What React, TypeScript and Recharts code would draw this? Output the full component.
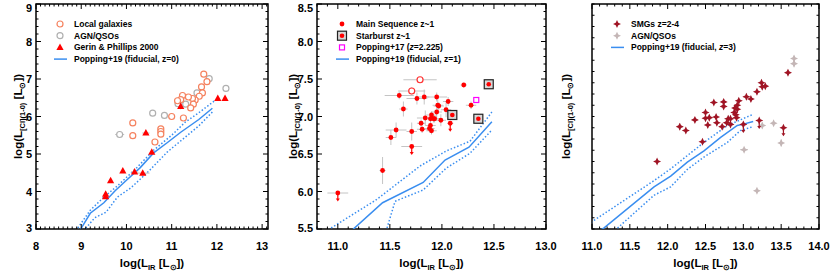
import React from 'react';
import {
  ComposedChart,
  Scatter,
  Line,
  XAxis,
  YAxis,
  ErrorBar,
  ReferenceArea,
  Legend,
} from 'recharts';

const FONT = '"Liberation Sans", Arial, Helvetica, sans-serif';
const BLUE = '#3a8ef0';
const ERR = '#c4c4c4';
const H = 274;
const TOP = 4;
const PLOT_H = 225;

// ---- panel 1 (z=0) : [x, y, xErr, yErr]
const localGalaxies = [
  [11.71, 7.13, 0.04, 0.07], [11.78, 6.93, 0.04, 0.05], [11.66, 6.79, 0.03, 0.05],
  [11.68, 6.63, 0.04, 0.05], [11.61, 6.54, 0.04, 0.05], [11.52, 6.44, 0.04, 0.05],
  [11.46, 6.48, 0.05, 0.05], [11.37, 6.52, 0.05, 0.05], [11.24, 6.56, 0.05, 0.05],
  [11.2, 6.45, 0.05, 0.05], [11.13, 6.42, 0.05, 0.06], [11.48, 6.33, 0.04, 0.05],
  [11.42, 6.23, 0.04, 0.05], [11.26, 5.96, 0.04, 0.08], [11.0, 6.0, 0.04, 0.04],
  [10.76, 5.67, 0.04, 0.04], [10.76, 5.6, 0.04, 0.04], [10.76, 5.53, 0.04, 0.04],
  [10.63, 5.32, 0.04, 0.04], [10.14, 5.83, 0.04, 0.05], [10.14, 5.49, 0.04, 0.05],
];
const agnLocal = [
  [11.83, 7.01, 0.06, 0.04], [11.56, 6.63, 0.05, 0.05], [11.31, 6.33, 0.05, 0.05],
  [11.14, 6.34, 0.06, 0.05], [10.84, 6.03, 0.06, 0.03], [10.58, 6.09, 0.06, 0.03],
  [9.85, 5.52, 0.1, 0.05], [12.2, 6.75, 0.06, 0.03],
];
const gerin = [
  [9.54, 3.93, 0, 0], [9.54, 3.86, 0, 0], [9.65, 4.29, 0, 0], [9.92, 4.55, 0.03, 0],
  [10.18, 4.52, 0.08, 0], [10.36, 4.49, 0.15, 0], [10.43, 5.56, 0.08, 0],
  [10.56, 5.05, 0.03, 0], [11.2, 6.27, 0, 0.08], [12.02, 6.48, 0, 0], [12.18, 6.48, 0, 0],
];
const model0 = [
  [8.95, 2.92], [9.2, 3.42], [9.5, 3.7], [9.75, 4.02], [10.0, 4.3], [10.3, 4.63],
  [10.6, 5.03], [10.9, 5.3], [11.2, 5.58], [11.6, 5.92], [11.9, 6.22],
];
const model0Hi = [
  [8.88, 2.95], [9.2, 3.5], [9.5, 3.85], [9.8, 4.15], [10.2, 4.6], [10.6, 5.1],
  [11.0, 5.5], [11.3, 5.85], [11.6, 6.1], [11.95, 6.42],
];
const model0Lo = [
  [9.05, 2.95], [9.3, 3.3], [9.55, 3.45], [9.8, 3.85], [10.1, 4.1], [10.5, 4.55],
  [10.9, 5.05], [11.3, 5.45], [11.6, 5.75], [11.9, 6.12],
];

// ---- panel 2 (z~1)
const mainSeq = [
  [11.43, 6.28, 0.03, 0.18], [11.51, 6.72, 0.05, 0.1], [11.56, 6.82, 0.1, 0.1],
  [11.59, 7.28, 0.14, 0.05], [11.63, 7.1, 0.04, 0.1], [11.71, 6.8, 0.05, 0.12],
  [11.76, 7.24, 0.1, 0.08], [11.83, 7.26, 0.05, 0.1], [11.84, 6.98, 0.08, 0.1],
  [11.8, 6.91, 0.04, 0.05], [11.81, 6.83, 0.05, 0.05], [11.88, 6.84, 0.05, 0.05],
  [11.9, 6.81, 0.05, 0.05], [11.89, 6.88, 0.05, 0.1], [11.89, 6.97, 0.05, 0.08],
  [11.92, 6.97, 0.05, 0.05], [11.93, 6.97, 0.05, 0.05], [11.9, 7.02, 0.05, 0.05],
  [11.95, 7.06, 0.05, 0.1], [11.96, 7.15, 0.05, 0.08], [11.97, 7.14, 0.05, 0.05],
  [11.95, 7.26, 0.1, 0.06], [11.99, 6.95, 0.05, 0.08], [12.04, 7.09, 0.05, 0.1],
  [12.06, 7.2, 0.05, 0.06], [12.21, 7.42, 0.03, 0.03], [12.28, 7.15, 0.05, 0.05],
];
const mainSeqLimits = [
  [11.0, 5.98, 0.1, 0], [11.71, 6.6, 0.1, 0.08], [12.08, 6.91, 0.03, 0],
];
const mainSeqOpen = [
  [11.79, 7.49, 0.16, 0.03], [11.71, 7.34, 0.13, 0.05],
];
const starburst = [
  [12.1, 7.02, 0, 0], [12.35, 6.97, 0, 0], [12.45, 7.43, 0, 0.03],
];
const popping17 = [[12.33, 7.22, 0, 0]];
const model1 = [
  [11.1, 5.36], [11.15, 5.5], [11.43, 5.85], [11.82, 6.12], [12.03, 6.42], [12.26, 6.59], [12.48, 6.93],
];
const model1Hi = [
  [10.88, 5.4], [10.92, 5.5], [11.37, 5.89], [11.79, 6.34], [12.04, 6.54], [12.27, 6.67], [12.48, 7.06],
];
const model1Lo = [
  [11.44, 5.38], [11.47, 5.5], [11.55, 5.87], [11.82, 6.02], [12.04, 6.31], [12.27, 6.51], [12.48, 6.82],
];

// ---- panel 3 (z=2-4)
const smgs = [
  [11.86, 6.7, 0.03, 0.04], [12.16, 7.32, 0.04, 0.06], [12.24, 7.25, 0.03, 0.05],
  [12.36, 7.44, 0.04, 0.04], [12.46, 7.05, 0.03, 0.05], [12.5, 7.57, 0.03, 0.05],
  [12.5, 7.47, 0.04, 0.06], [12.55, 7.48, 0.03, 0.05], [12.53, 7.35, 0.03, 0.05],
  [12.64, 7.49, 0.03, 0.05], [12.65, 7.39, 0.03, 0.05], [12.61, 7.75, 0.05, 0.04],
  [12.72, 7.32, 0.03, 0.04], [12.74, 7.76, 0.03, 0.05], [12.74, 7.68, 0.03, 0.05],
  [12.78, 7.39, 0.03, 0.05], [12.8, 7.46, 0.05, 0.06], [12.83, 7.46, 0.03, 0.06],
  [12.83, 7.36, 0.03, 0.05], [12.88, 7.57, 0.03, 0.06], [12.89, 7.65, 0.03, 0.05],
  [12.9, 7.53, 0.03, 0.06], [12.92, 7.63, 0.03, 0.05], [12.92, 7.7, 0.03, 0.05],
  [12.94, 7.78, 0.03, 0.05], [12.91, 7.48, 0.03, 0.05], [13.04, 7.85, 0.04, 0.06],
  [13.1, 7.81, 0.03, 0.04], [13.18, 7.94, 0.03, 0.05], [13.24, 8.1, 0.03, 0.06],
  [13.25, 8.03, 0.03, 0.05], [13.29, 8.04, 0.03, 0.04], [13.59, 8.28, 0.03, 0.05],
];
const smgLimits = [
  [13.0, 7.36, 0.03, 0], [13.21, 7.43, 0.03, 0], [13.53, 7.3, 0.03, 0],
];
const agnHighZ = [
  [13.01, 6.91, 0.05, 0.03], [13.18, 6.18, 0.03, 0.03], [13.25, 7.34, 0.03, 0.05],
  [13.4, 7.38, 0.03, 0.03], [13.5, 7.03, 0.03, 0.06], [13.67, 8.53, 0.02, 0.05],
  [13.67, 8.44, 0.02, 0.05],
];
const model3 = [
  [11.1, 5.47], [11.16, 5.52], [11.82, 6.25], [12.04, 6.44], [12.26, 6.69], [12.48, 6.89],
  [12.7, 7.13], [12.92, 7.34], [12.99, 7.36], [13.13, 7.41],
];
const model3Hi = [
  [10.95, 5.58], [11.0, 5.63], [11.82, 6.36], [12.04, 6.57], [12.48, 7.04], [12.79, 7.34], [13.13, 7.54],
];
const model3Lo = [
  [11.3, 5.48], [11.34, 5.52], [11.82, 6.1], [12.04, 6.25], [12.26, 6.56], [12.48, 6.78],
  [12.79, 7.04], [12.96, 7.25], [13.13, 7.32],
];

// ---- ticks
const xMajor1 = [8, 9, 10, 11, 12, 13];
const yMajor1 = [3, 4, 5, 6, 7, 8, 9];
const xMajor2 = [11, 11.5, 12, 12.5, 13];
const yMajor2 = [5.5, 6, 6.5, 7, 7.5, 8, 8.5];
const xMajor3 = [11, 11.5, 12, 12.5, 13, 13.5, 14];
const yMajor3 = [6, 7, 8, 9];

const pts = (rows: number[][]) => rows.map(([x, y, ex = 0, ey = 0]) => ({ x, y, ex, ey }));
const line = (rows: number[][]) => rows.map(([x, y]) => ({ x, y }));
const steps = (a: number, b: number, s: number) => {
  const out: number[] = [];
  for (let v = a; v <= b + 1e-9; v += s) out.push(Math.round(v * 1000) / 1000);
  return out;
};
const isMajor = (majors: number[], v: number) => majors.some((m) => Math.abs(m - v) < 1e-6);
const int = (v: number) => String(Math.round(v));
const one = (v: number) => v.toFixed(1);

// ---- marker shapes
const OpenCircle = ({ cx, cy, color }: any) => (
  <circle cx={cx} cy={cy} r={3} fill="#fff" stroke={color} strokeWidth={1.2} />
);
const Dot = ({ cx, cy, color, r = 2.4 }: any) => <circle cx={cx} cy={cy} r={r} fill={color} />;
const Triangle = ({ cx, cy }: any) => (
  <polygon points={`${cx},${cy - 4} ${cx + 3.6},${cy + 2.6} ${cx - 3.6},${cy + 2.6}`} fill="#ff0000" />
);
const Star = ({ cx, cy, color, r = 4 }: any) => {
  const i = r * 0.32;
  return (
    <path
      d={`M${cx},${cy - r}L${cx + i},${cy - i}L${cx + r},${cy}L${cx + i},${cy + i}L${cx},${cy + r}L${cx - i},${cy + i}L${cx - r},${cy}L${cx - i},${cy - i}Z`}
      fill={color}
    />
  );
};
const Box = ({ cx, cy }: any) => (
  <g>
    <rect x={cx - 4.5} y={cy - 4.5} width={9} height={9} fill="#d8d8d8" stroke="#222" strokeWidth={1.2} />
    <circle cx={cx} cy={cy} r={2.3} fill="#ff0000" />
  </g>
);
const MagentaSquare = ({ cx, cy }: any) => (
  <rect x={cx - 2.5} y={cy - 2.5} width={5} height={5} fill="#fff" stroke="#ff00ff" strokeWidth={1.2} />
);
const Limit = ({ cx, cy, color, star }: any) => (
  <g>
    <line x1={cx} y1={cy} x2={cx} y2={cy + 7} stroke={color} strokeWidth={1.2} />
    <polygon points={`${cx - 2},${cy + 5.5} ${cx + 2},${cy + 5.5} ${cx},${cy + 8.5}`} fill={color} />
    {star ? <Star cx={cx} cy={cy} color={color} /> : <Dot cx={cx} cy={cy} color={color} />}
  </g>
);

// ---- axes
const makeXTick = (majors: number[], fmt: (v: number) => string) => (p: any) => {
  const { x, y, payload } = p;
  const v = payload.value;
  const major = isMajor(majors, v);
  const len = major ? 5 : 2.5;
  const top = y - PLOT_H;
  return (
    <g>
      <line x1={x} y1={y} x2={x} y2={y - len} stroke="#000" strokeWidth={1} />
      <line x1={x} y1={top} x2={x} y2={top + len} stroke="#000" strokeWidth={1} />
      {major && (
        <text x={x} y={y + 21} textAnchor="middle" fontFamily={FONT} fontWeight="bold" fontSize={11} fill="#000">
          {fmt(v)}
        </text>
      )}
    </g>
  );
};

const makeYTick = (majors: number[], fmt: (v: number) => string, plotW: number) => (p: any) => {
  const { x, y, payload } = p;
  const v = payload.value;
  const major = isMajor(majors, v);
  const len = major ? 5 : 2.5;
  const ly = Math.min(Math.max(y, TOP + 4), TOP + PLOT_H - 1);
  return (
    <g>
      <line x1={x} y1={y} x2={x + len} y2={y} stroke="#000" strokeWidth={1} />
      <line x1={x + plotW} y1={y} x2={x + plotW - len} y2={y} stroke="#000" strokeWidth={1} />
      {major && (
        <text x={x - 4} y={ly + 4} textAnchor="end" fontFamily={FONT} fontWeight="bold" fontSize={11} fill="#000">
          {fmt(v)}
        </text>
      )}
    </g>
  );
};

const XTitle = ({ cx }: any) => (
  <text x={cx} y={TOP + PLOT_H + 38} textAnchor="middle" fontFamily={FONT} fontWeight="bold" fontSize={11.5} fill="#000">
    log(L<tspan fontSize={7.5} dy={3}>IR</tspan>
    <tspan dy={-3}> [L</tspan>
    <tspan fontSize={7.5} dy={3}>⊙</tspan>
    <tspan dy={-3}>])</tspan>
  </text>
);

const YTitle = ({ cx }: any) => {
  const cy = TOP + PLOT_H / 2;
  return (
    <text
      x={cx}
      y={cy + 4}
      transform={`rotate(-90 ${cx} ${cy})`}
      textAnchor="middle"
      fontFamily={FONT}
      fontWeight="bold"
      fontSize={11.5}
      fill="#000"
    >
      log(L<tspan fontSize={7.5} dy={3}>[CI](1-0)</tspan>
      <tspan dy={-3}> [L</tspan>
      <tspan fontSize={7.5} dy={3}>⊙</tspan>
      <tspan dy={-3}>])</tspan>
    </text>
  );
};

// ---- legends
type Item = { label: React.ReactNode; icon: (cx: number, cy: number) => React.ReactNode };
const lineIcon = (cx: number, cy: number) => (
  <line x1={cx - 6} y1={cy} x2={cx + 7} y2={cy} stroke={BLUE} strokeWidth={1.5} />
);
const LegendBox = ({ items }: { items: Item[] }) => (
  <svg width={200} height={items.length * 11.7 + 4} style={{ display: 'block' }}>
    {items.map((it, i) => {
      const cy = 6 + i * 11.7;
      return (
        <g key={i}>
          {it.icon(8, cy)}
          <text x={22} y={cy + 3} fontFamily={FONT} fontWeight="bold" fontSize={8.5} fill="#000">
            {it.label}
          </text>
        </g>
      );
    })}
  </svg>
);

const legend1: Item[] = [
  { label: 'Local galaxies', icon: (cx, cy) => <OpenCircle cx={cx} cy={cy} color="#f5825f" /> },
  { label: 'AGN/QSOs', icon: (cx, cy) => <OpenCircle cx={cx} cy={cy} color="#b0b0b0" /> },
  { label: 'Gerin & Phillips 2000', icon: (cx, cy) => <Triangle cx={cx} cy={cy} /> },
  { label: 'Popping+19 (fiducial, z=0)', icon: lineIcon },
];
const legend2: Item[] = [
  { label: 'Main Sequence z~1', icon: (cx, cy) => <Dot cx={cx} cy={cy} color="#ff0000" /> },
  { label: 'Starburst z~1', icon: (cx, cy) => <Box cx={cx} cy={cy} /> },
  {
    label: (
      <>
        Popping+17 (<tspan fontStyle="italic">z</tspan>=2.225)
      </>
    ),
    icon: (cx, cy) => <MagentaSquare cx={cx} cy={cy} />,
  },
  { label: 'Popping+19 (fiducial, z=1)', icon: lineIcon },
];
const legend3: Item[] = [
  { label: 'SMGs z=2-4', icon: (cx, cy) => <Star cx={cx} cy={cy} color="#a01424" /> },
  { label: 'AGN/QSOs', icon: (cx, cy) => <Star cx={cx} cy={cy} color="#c4b6b6" /> },
  {
    label: (
      <>
        Popping+19 (fiducial, <tspan fontStyle="italic">z</tspan>=3)
      </>
    ),
    icon: lineIcon,
  },
];

type PanelProps = {
  left: number;
  width: number;
  yAxisW: number;
  marginRight: number;
  xDomain: [number, number];
  yDomain: [number, number];
  xMajor: number[];
  xMinor: number;
  yMajor: number[];
  yMinor: number;
  xFmt: (v: number) => string;
  yFmt: (v: number) => string;
  yTitleX: number;
  legend: Item[];
  legendLeft: number;
  children: React.ReactNode;
};

const Panel = (p: PanelProps) => {
  const plotW = p.width - p.yAxisW - p.marginRight;
  const xTicks = steps(p.xDomain[0], p.xDomain[1], p.xMinor);
  const yTicks = steps(p.yDomain[0], p.yDomain[1], p.yMinor);
  return (
    <div style={{ position: 'absolute', left: p.left, top: 0 }}>
      <ComposedChart width={p.width} height={H} margin={{ top: TOP, right: p.marginRight, bottom: 0, left: 0 }}>
        <XAxis
          type="number"
          dataKey="x"
          domain={p.xDomain}
          allowDataOverflow
          ticks={xTicks}
          interval={0}
          tickSize={0}
          tickMargin={0}
          axisLine={false}
          tickLine={false}
          height={H - TOP - PLOT_H}
          tick={makeXTick(p.xMajor, p.xFmt)}
          label={<XTitle cx={p.yAxisW + plotW / 2} />}
        />
        <YAxis
          type="number"
          dataKey="y"
          domain={p.yDomain}
          allowDataOverflow
          ticks={yTicks}
          interval={0}
          tickSize={0}
          tickMargin={0}
          axisLine={false}
          tickLine={false}
          width={p.yAxisW}
          tick={makeYTick(p.yMajor, p.yFmt, plotW)}
          label={<YTitle cx={p.yTitleX} />}
        />
        {p.children}
        <ReferenceArea
          x1={p.xDomain[0]}
          x2={p.xDomain[1]}
          y1={p.yDomain[0]}
          y2={p.yDomain[1]}
          fill="none"
          fillOpacity={0}
          stroke="#000"
          strokeWidth={1.5}
          ifOverflow="visible"
        />
        <Legend
          layout="horizontal"
          align="center"
          verticalAlign="middle"
          content={() => <LegendBox items={p.legend} />}
          wrapperStyle={{ left: p.legendLeft, top: 18, width: 200, height: 50 }}
        />
      </ComposedChart>
    </div>
  );
};

const modelLines = (mid: number[][], hi: number[][], lo: number[][]) => [
  <Line key="hi" data={line(hi)} dataKey="y" stroke={BLUE} strokeWidth={1.5} strokeDasharray="1.5 2" dot={false} isAnimationActive={false} legendType="none" />,
  <Line key="lo" data={line(lo)} dataKey="y" stroke={BLUE} strokeWidth={1.5} strokeDasharray="1.5 2" dot={false} isAnimationActive={false} legendType="none" />,
  <Line key="mid" data={line(mid)} dataKey="y" stroke={BLUE} strokeWidth={1.5} dot={false} isAnimationActive={false} legendType="none" />,
];

export default function App() {
  return (
    <div style={{ position: 'absolute', left: 0, top: 0, width: 831, height: H, background: '#fff', overflow: 'hidden' }}>
      <Panel
        left={0} width={280} yAxisW={36} marginRight={12}
        xDomain={[8, 13.13]} yDomain={[3, 9]}
        xMajor={xMajor1} xMinor={0.1} yMajor={yMajor1} yMinor={0.2}
        xFmt={int} yFmt={int} yTitleX={18}
        legend={legend1} legendLeft={52}
      >
        {modelLines(model0, model0Hi, model0Lo)}
        <Scatter data={pts(agnLocal)} isAnimationActive={false} shape={(s: any) => <OpenCircle {...s} color="#b0b0b0" />}>
          <ErrorBar dataKey="ex" direction="x" width={0} stroke={ERR} strokeWidth={1} />
          <ErrorBar dataKey="ey" direction="y" width={0} stroke={ERR} strokeWidth={1} />
        </Scatter>
        <Scatter data={pts(localGalaxies)} isAnimationActive={false} shape={(s: any) => <OpenCircle {...s} color="#f5825f" />}>
          <ErrorBar dataKey="ex" direction="x" width={0} stroke={ERR} strokeWidth={1} />
          <ErrorBar dataKey="ey" direction="y" width={0} stroke={ERR} strokeWidth={1} />
        </Scatter>
        <Scatter data={pts(gerin)} isAnimationActive={false} shape={(s: any) => <Triangle {...s} />}>
          <ErrorBar dataKey="ex" direction="x" width={0} stroke={ERR} strokeWidth={1} />
          <ErrorBar dataKey="ey" direction="y" width={0} stroke={ERR} strokeWidth={1} />
        </Scatter>
      </Panel>

      <Panel
        left={280} width={280} yAxisW={37} marginRight={14}
        xDomain={[10.8, 13]} yDomain={[5.5, 8.5]}
        xMajor={xMajor2} xMinor={0.1} yMajor={yMajor2} yMinor={0.1}
        xFmt={one} yFmt={one} yTitleX={12.5}
        legend={legend2} legendLeft={54}
      >
        {modelLines(model1, model1Hi, model1Lo)}
        <Scatter data={pts(mainSeqOpen)} isAnimationActive={false} shape={(s: any) => <OpenCircle {...s} color="#ff3030" />}>
          <ErrorBar dataKey="ex" direction="x" width={0} stroke={ERR} strokeWidth={1} />
          <ErrorBar dataKey="ey" direction="y" width={0} stroke={ERR} strokeWidth={1} />
        </Scatter>
        <Scatter data={pts(mainSeq)} isAnimationActive={false} shape={(s: any) => <Dot {...s} color="#ff0000" />}>
          <ErrorBar dataKey="ex" direction="x" width={0} stroke={ERR} strokeWidth={1} />
          <ErrorBar dataKey="ey" direction="y" width={0} stroke={ERR} strokeWidth={1} />
        </Scatter>
        <Scatter data={pts(mainSeqLimits)} isAnimationActive={false} shape={(s: any) => <Limit {...s} color="#ff0000" />}>
          <ErrorBar dataKey="ex" direction="x" width={0} stroke={ERR} strokeWidth={1} />
        </Scatter>
        <Scatter data={pts(starburst)} isAnimationActive={false} shape={(s: any) => <Box {...s} />}>
          <ErrorBar dataKey="ey" direction="y" width={0} stroke={ERR} strokeWidth={1} />
        </Scatter>
        <Scatter data={pts(popping17)} isAnimationActive={false} shape={(s: any) => <MagentaSquare {...s} />} />
      </Panel>

      <Panel
        left={555} width={276} yAxisW={37} marginRight={12}
        xDomain={[11, 14]} yDomain={[5.5, 9.5]}
        xMajor={xMajor3} xMinor={0.1} yMajor={yMajor3} yMinor={0.2}
        xFmt={one} yFmt={int} yTitleX={11}
        legend={legend3} legendLeft={54}
      >
        {modelLines(model3, model3Hi, model3Lo)}
        <Scatter data={pts(agnHighZ)} isAnimationActive={false} shape={(s: any) => <Star {...s} color="#c4b6b6" />}>
          <ErrorBar dataKey="ex" direction="x" width={0} stroke={ERR} strokeWidth={1} />
          <ErrorBar dataKey="ey" direction="y" width={0} stroke={ERR} strokeWidth={1} />
        </Scatter>
        <Scatter data={pts(smgs)} isAnimationActive={false} shape={(s: any) => <Star {...s} color="#a01424" />}>
          <ErrorBar dataKey="ex" direction="x" width={0} stroke={ERR} strokeWidth={1} />
          <ErrorBar dataKey="ey" direction="y" width={0} stroke={ERR} strokeWidth={1} />
        </Scatter>
        <Scatter data={pts(smgLimits)} isAnimationActive={false} shape={(s: any) => <Limit {...s} color="#a01424" star />}>
          <ErrorBar dataKey="ex" direction="x" width={0} stroke={ERR} strokeWidth={1} />
        </Scatter>
      </Panel>
    </div>
  );
}
